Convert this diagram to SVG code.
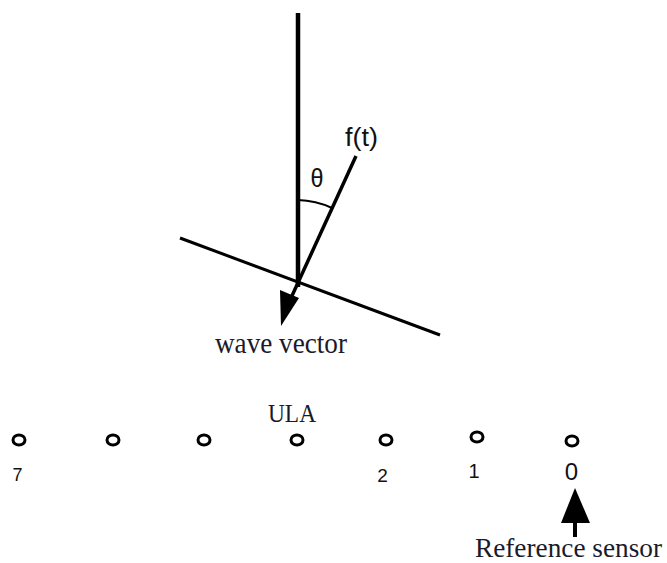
<svg xmlns="http://www.w3.org/2000/svg" width="667" height="563" viewBox="0 0 667 563">
<style>
.ln{stroke:#000;fill:none;stroke-linecap:butt}
.sensor{fill:none;stroke:#000;stroke-width:3}
.serif{font-family:"Liberation Serif","Times New Roman",serif;fill:#1a1a2a}
.sans{font-family:"Liberation Sans",Arial,sans-serif;fill:#111}
</style>
<rect width="667" height="563" fill="#fff"/>
<g id="connectors">
<line class="ln" x1="298" y1="13" x2="298" y2="287" stroke-width="4.5"/>
<line class="ln" x1="356" y1="156" x2="291" y2="298" stroke-width="3.5"/>
<line class="ln" x1="180" y1="238" x2="440" y2="335" stroke-width="3"/>
<path class="ln" d="M298,200 A85,85 0 0 1 332,208" stroke-width="2"/>
<polygon points="280,290 299,298 281,326" fill="#000"/>
<line class="ln" x1="575" y1="518" x2="575" y2="537" stroke-width="4"/>
<polygon points="575,488 590,523 561,523" fill="#000"/>
</g>
<g id="labels">
<text class="sans" x="361.5" y="146" font-size="25" text-anchor="middle" textLength="33" lengthAdjust="spacingAndGlyphs">f(t)</text>
<text class="sans" x="317" y="187" font-size="26" text-anchor="middle" textLength="13" lengthAdjust="spacingAndGlyphs">θ</text>
<text class="serif" x="215" y="353" font-size="30" textLength="132" lengthAdjust="spacingAndGlyphs">wave vector</text>
<text class="serif" x="268" y="422" font-size="25" textLength="48" lengthAdjust="spacingAndGlyphs">ULA</text>
<text class="serif" x="475" y="557" font-size="27" textLength="187" lengthAdjust="spacingAndGlyphs">Reference sensor</text>
</g>
<g id="sensor7"><ellipse class="sensor" cx="19" cy="440" rx="6" ry="5"/><text class="sans" x="17.5" y="481" font-size="18" text-anchor="middle">7</text></g>
<g id="sensor6"><ellipse class="sensor" cx="113" cy="440" rx="6" ry="5"/></g>
<g id="sensor5"><ellipse class="sensor" cx="204" cy="440" rx="6" ry="5"/></g>
<g id="sensor4"><ellipse class="sensor" cx="297" cy="440" rx="6" ry="5"/></g>
<g id="sensor2"><ellipse class="sensor" cx="386" cy="440" rx="6" ry="5"/><text class="sans" x="382.5" y="482" font-size="19" text-anchor="middle">2</text></g>
<g id="sensor1"><ellipse class="sensor" cx="477" cy="437" rx="6" ry="5"/><text class="sans" x="474" y="478" font-size="20" text-anchor="middle">1</text></g>
<g id="sensor0"><ellipse class="sensor" cx="572" cy="441" rx="6" ry="5"/><text class="sans" x="571.5" y="480" font-size="24" text-anchor="middle">0</text></g>
</svg>
